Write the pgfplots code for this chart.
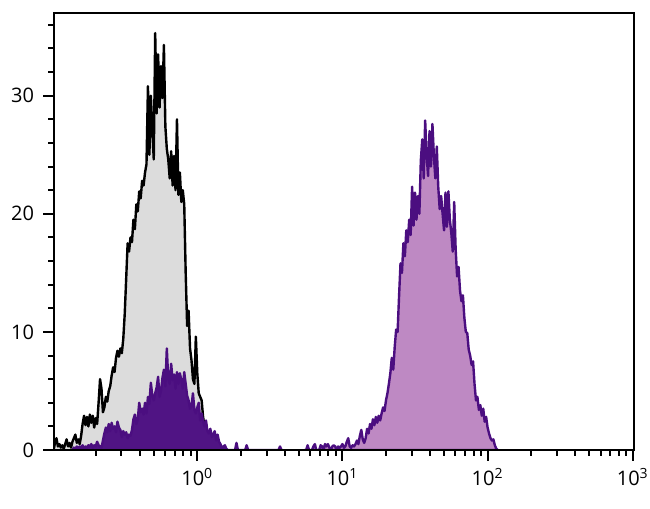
\documentclass[border=0pt]{standalone}
\usepackage{fontspec}
\setmainfont{Open Sans}
\usepackage{pgfplots}
\usepackage{pgfplotstable}
\pgfplotsset{compat=1.18}
\definecolor{fillgray}{RGB}{220,220,220}
\definecolor{pline}{RGB}{75,14,128}
\definecolor{plight}{RGB}{190,137,195}
\definecolor{pdark}{RGB}{80,20,132}

\pgfplotstableread{
e y
-0.99 0
-0.98 0.6
-0.97 1.0
-0.96 0.3
-0.95 0.5
-0.94 0.2
-0.93 0.4
-0.92 0.1
-0.91 0.5
-0.90 0.9
-0.89 0.3
-0.88 0.6
-0.87 0.2
-0.86 0.7
-0.85 1.0
-0.84 1.3
-0.83 0.6
-0.82 0.9
-0.81 0.5
-0.80 1.2
-0.79 2.2
-0.78 2.9
-0.77 2.1
-0.76 2.8
-0.75 2.0
-0.74 3.0
-0.73 2.3
-0.72 2.9
-0.71 1.9
-0.70 2.7
-0.69 2.2
-0.68 4.0
-0.67 6.0
-0.66 5.2
-0.65 3.2
-0.64 3.6
-0.63 4.5
-0.62 4.1
-0.61 5.0
-0.60 5.4
-0.59 6.3
-0.58 7.0
-0.57 6.6
-0.56 7.8
-0.55 8.4
-0.54 7.9
-0.53 8.6
-0.52 8.2
-0.51 9.4
-0.50 11.5
-0.49 14.5
-0.48 17.5
-0.47 16.8
-0.46 18.0
-0.45 17.6
-0.44 19.5
-0.43 18.7
-0.42 20.8
-0.41 20.2
-0.40 21.9
-0.39 21.3
-0.38 22.8
-0.37 22.4
-0.36 23.5
-0.35 24.2
-0.34 30.8
-0.33 25.0
-0.32 30.0
-0.31 27.2
-0.30 24.6
-0.29 35.3
-0.28 28.5
-0.27 33.5
-0.26 29.0
-0.25 32.5
-0.24 29.8
-0.23 34.3
-0.22 27.4
-0.21 25.5
-0.20 24.6
-0.19 23.0
-0.18 25.3
-0.17 22.4
-0.16 24.9
-0.15 22.0
-0.14 28.0
-0.13 21.6
-0.12 23.5
-0.11 21.0
-0.10 22.0
-0.09 20.8
-0.08 15.0
-0.07 10.5
-0.06 11.8
-0.05 8.6
-0.04 7.6
-0.03 6.0
-0.02 5.6
-0.01 9.6
0.00 6.5
0.01 4.8
0.02 4.5
0.03 4.2
0.04 2.8
0.05 2.0
0.06 1.5
0.07 1.0
0.08 0.7
0.09 0.4
0.10 0.3
0.11 0.1
0.12 0
}\blackdata

\pgfplotstableread{
e y
-0.86 0
-0.85 0.2
-0.84 0.1
-0.83 0.3
-0.82 0.1
-0.81 0.3
-0.80 0.2
-0.79 0.4
-0.78 0.1
-0.77 0.3
-0.76 0.2
-0.75 0.4
-0.74 0.3
-0.73 0.5
-0.72 0.2
-0.71 0.4
-0.70 0.3
-0.69 0.7
-0.68 0.4
-0.67 0.3
-0.66 0.2
-0.65 0.8
-0.64 1.4
-0.63 1.9
-0.62 1.5
-0.61 2.2
-0.60 1.6
-0.59 2.3
-0.58 1.8
-0.57 2.0
-0.56 1.5
-0.55 2.4
-0.54 1.9
-0.53 1.7
-0.52 1.1
-0.51 1.6
-0.50 1.3
-0.49 1.5
-0.48 1.0
-0.47 1.3
-0.46 1.2
-0.45 1.7
-0.44 2.6
-0.43 3.0
-0.42 2.2
-0.41 2.6
-0.40 4.0
-0.39 3.2
-0.38 3.5
-0.37 3.0
-0.36 4.0
-0.35 3.1
-0.34 4.5
-0.33 3.9
-0.32 5.7
-0.31 4.6
-0.30 4.2
-0.29 4.8
-0.28 5.3
-0.27 6.2
-0.26 4.5
-0.25 5.0
-0.24 6.1
-0.23 6.8
-0.22 5.4
-0.21 8.6
-0.20 6.0
-0.19 5.6
-0.18 7.3
-0.17 5.9
-0.16 6.4
-0.15 5.2
-0.14 6.6
-0.13 5.6
-0.12 6.5
-0.11 5.9
-0.10 5.2
-0.09 6.6
-0.08 5.6
-0.07 4.6
-0.06 4.2
-0.05 3.5
-0.04 3.7
-0.03 4.8
-0.02 3.4
-0.01 3.1
0.00 3.6
0.01 4.0
0.02 2.5
0.03 3.1
0.04 2.4
0.05 2.0
0.06 2.5
0.07 1.6
0.08 1.4
0.09 1.8
0.10 1.1
0.11 1.3
0.12 1.6
0.13 0.8
0.14 1.3
0.15 0.7
0.16 0.5
0.17 0.1
0.18 0.3
0.19 0.4
0.20 0.1
0.21 0
0.26 0
0.27 0.6
0.28 0
0.33 0
0.34 0.4
0.35 0
0.56 0
0.57 0.3
0.58 0
}\purpleleft

\pgfplotstableread{
e y
0.74 0
0.75 0
0.76 0.4
0.77 0
0.79 0
0.80 0.3
0.81 0.5
0.82 0
0.84 0
0.85 0.4
0.86 0.3
0.87 0
0.88 0.5
0.89 0.3
0.90 0.5
0.91 0.2
0.92 0
0.93 0.3
0.94 0.4
0.95 0.3
0.96 0
0.97 0.3
0.98 0.2
0.99 0.3
1.00 0.5
1.01 0.2
1.02 0.3
1.03 0.7
1.04 1.0
1.05 0.3
1.06 0.2
1.07 0.4
1.08 0.3
1.09 0.5
1.10 0.8
1.11 0.5
1.12 1.2
1.13 1.7
1.14 0.9
1.15 0.6
1.16 1.0
1.17 1.8
1.18 1.4
1.19 2.2
1.20 1.8
1.21 2.6
1.22 2.1
1.23 2.8
1.24 2.3
1.25 2.9
1.26 2.5
1.27 3.1
1.28 3.6
1.29 3.3
1.30 4.2
1.31 4.8
1.32 5.6
1.33 6.5
1.34 7.8
1.35 6.8
1.36 8.7
1.37 10.2
1.38 10.0
1.39 13.0
1.40 15.8
1.41 15.0
1.42 17.5
1.43 16.4
1.44 18.6
1.45 17.6
1.46 19.5
1.47 18.2
1.48 22.3
1.49 19.0
1.50 21.8
1.51 19.5
1.52 21.5
1.53 20.0
1.54 24.5
1.55 26.3
1.56 23.0
1.57 27.9
1.58 25.0
1.59 23.2
1.60 27.0
1.61 24.0
1.62 27.6
1.63 24.9
1.64 23.0
1.65 25.7
1.66 22.3
1.67 20.4
1.68 21.5
1.69 20.0
1.70 18.6
1.71 21.8
1.72 18.9
1.73 21.9
1.74 19.5
1.75 18.4
1.76 16.8
1.77 21.0
1.78 17.0
1.79 14.7
1.80 15.5
1.81 13.5
1.82 12.6
1.83 13.1
1.84 11.2
1.85 10.0
1.86 9.9
1.87 8.5
1.88 8.0
1.89 7.2
1.90 7.5
1.91 5.6
1.92 4.2
1.93 4.5
1.94 3.4
1.95 3.8
1.96 2.9
1.97 3.5
1.98 2.4
1.99 2.8
2.00 1.9
2.01 1.4
2.02 1.0
2.03 0.8
2.04 0.9
2.05 0.4
2.06 0.1
2.07 0
}\purpleright

\begin{document}
\begin{tikzpicture}
\useasboundingbox (-27pt,-29.5pt) rectangle (298pt,225pt);
\begin{axis}[
  at={(0pt,0pt)}, anchor=south west,
  scale only axis, width=290pt, height=218.5pt,
  xmode=log, xmin=0.103, xmax=1020, ymin=0, ymax=37,
  xtick={1,10,100,1000},
  xticklabels={10\textsuperscript{0},10\textsuperscript{1},10\textsuperscript{2},10\textsuperscript{3}},
  minor xtick={0.2,0.3,0.4,0.5,0.6,0.7,0.8,0.9,2,3,4,5,6,7,8,9,20,30,40,50,60,70,80,90,200,300,400,500,600,700,800,900},
  ytick={0,10,20,30},
  minor ytick={2,4,6,8,12,14,16,18,22,24,26,28,32,34,36},
  xtick pos=bottom, ytick pos=left,
  tick align=outside,
  major tick length=5.5pt, minor tick length=2.8pt,
  axis line style={line width=1.2pt},
  tick style={black, line width=1pt},
  tick label style={font=\fontsize{10}{12}\selectfont},
  yticklabel style={xshift=-1pt},
  /pgf/number format/assume math mode=true,
  axis on top,
]
\addplot[draw=none, fill=fillgray] table[x expr={10^(\thisrow{e})}, y=y] {\blackdata} \closedcycle;
\addplot[black, line width=1.2pt, line join=round] table[x expr={10^(\thisrow{e})}, y=y] {\blackdata};
\addplot[draw=pline, fill=pdark, line width=1.2pt, line join=round] table[x expr={10^(\thisrow{e})}, y=y] {\purpleleft} \closedcycle;
\addplot[draw=pline, fill=plight, line width=1.2pt, line join=round] table[x expr={10^(\thisrow{e})}, y=y] {\purpleright} \closedcycle;
\end{axis}
\end{tikzpicture}
\end{document}
